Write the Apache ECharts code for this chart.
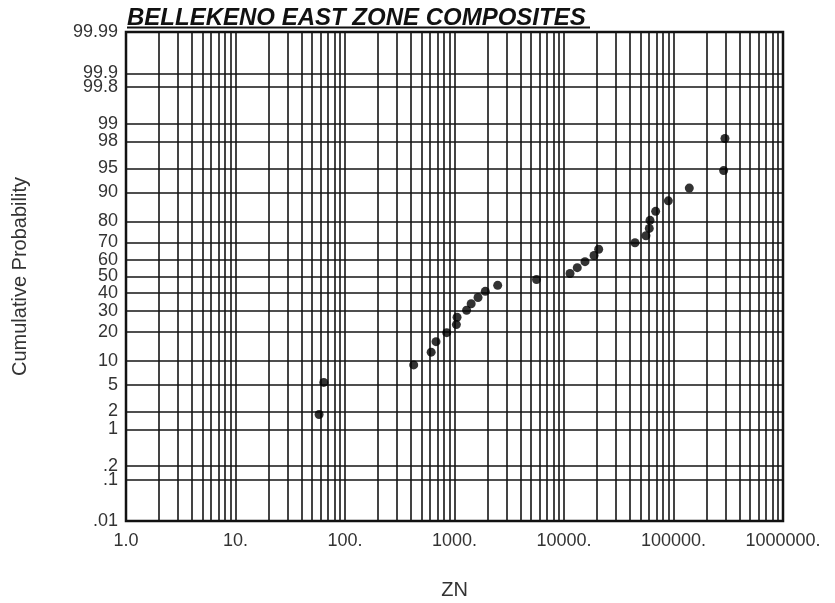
<!DOCTYPE html>
<html>
<head>
<meta charset="utf-8">
<script src="https://cdn.jsdelivr.net/npm/echarts@6/dist/echarts.min.js"></script>
<style>
html,body{margin:0;padding:0;background:#fff;}
#chart{width:835px;height:603px;}
</style>
</head>
<body>
<div id="chart"></div>
<script>
// ---- Data ----
const titleText = 'BELLEKENO EAST ZONE COMPOSITES';
const xName = 'ZN';
const yName = 'Cumulative Probability';

// ZN values of each composite (sorted)
const znValues = [58, 64, 424, 612, 678, 849, 1040, 1055, 1290, 1420, 1640, 1910, 2480, 5610,
  11350, 13220, 15550, 18800, 20740, 44500, 56000, 60100, 61000, 68700, 89700, 139400, 287000, 295000];
// cumulative probability (%) of each composite
const cumProb = [1.79, 5.36, 8.93, 12.50, 16.07, 19.64, 23.21, 26.79, 30.36, 33.93, 37.50, 41.07,
  44.64, 48.21, 51.79, 55.36, 58.93, 62.50, 66.07, 69.64, 73.21, 76.79, 80.36, 83.93, 87.50,
  91.07, 94.64, 98.21];

// probability axis ticks
const probTicks = [0.01, 0.1, 0.2, 1, 2, 5, 10, 20, 30, 40, 50, 60, 70, 80, 90, 95, 98, 99, 99.8, 99.9, 99.99];
const probLabels = ['.01', '.1', '.2', '1', '2', '5', '10', '20', '30', '40', '50', '60', '70', '80', '90', '95', '98', '99', '99.8', '99.9', '99.99'];

// log axis
const decades = [1, 10, 100, 1000, 10000, 100000, 1000000];
const decadeLabels = ['1.0', '10.', '100.', '1000.', '10000.', '100000.', '1000000.'];
const minorMult = [2, 3, 4, 5, 6, 7, 8, 9];

// ---- probability scale (inverse normal CDF, Acklam) ----
function probit(p) {
  const a = [-3.969683028665376e+01, 2.209460984245205e+02, -2.759285104469687e+02, 1.383577518672690e+02, -3.066479806614716e+01, 2.506628277459239e+00];
  const b = [-5.447609879822406e+01, 1.615858368580409e+02, -1.556989798598866e+02, 6.680131188771972e+01, -1.328068155288572e+01];
  const c = [-7.784894002430293e-03, -3.223964580411365e-01, -2.400758277161838e+00, -2.549732539343734e+00, 4.374664141464968e+00, 2.938163982698783e+00];
  const d = [7.784695709041462e-03, 3.224671290700398e-01, 2.445134137142996e+00, 3.754408661907416e+00];
  const pl = 0.02425, ph = 1 - pl;
  let q, r;
  if (p < pl) {
    q = Math.sqrt(-2 * Math.log(p));
    return (((((c[0]*q+c[1])*q+c[2])*q+c[3])*q+c[4])*q+c[5]) / ((((d[0]*q+d[1])*q+d[2])*q+d[3])*q+1);
  } else if (p <= ph) {
    q = p - 0.5; r = q * q;
    return (((((a[0]*r+a[1])*r+a[2])*r+a[3])*r+a[4])*r+a[5])*q / (((((b[0]*r+b[1])*r+b[2])*r+b[3])*r+b[4])*r+1);
  } else {
    q = Math.sqrt(-2 * Math.log(1 - p));
    return -(((((c[0]*q+c[1])*q+c[2])*q+c[3])*q+c[4])*q+c[5]) / ((((d[0]*q+d[1])*q+d[2])*q+d[3])*q+1);
  }
}
const pz = v => probit(v / 100);
const yMin = pz(probTicks[0]);
const yMax = pz(probTicks[probTicks.length - 1]);
const tickZ = probTicks.map(pz);

const gridXs = [];
decades.forEach((d, i) => {
  gridXs.push(d);
  if (i < decades.length - 1) minorMult.forEach(m => gridXs.push(d * m));
});

const lineCol = '#151515';
const markLines = [];
gridXs.forEach(v => markLines.push({ xAxis: v }));
tickZ.forEach(z => markLines.push({ yAxis: z }));

const FONT = 'Liberation Sans, Arial, sans-serif';
const chart = echarts.init(document.getElementById('chart'), null, { renderer: 'canvas' });
chart.setOption({
  animation: false,
  backgroundColor: '#fff',
  textStyle: { fontFamily: FONT },
  grid: { left: 126, right: 52, top: 32, bottom: 82, containLabel: false, outerBoundsMode: 'none',
    show: true, borderColor: '#111', borderWidth: 2.5, backgroundColor: 'transparent' },
  graphic: [
    {
      type: 'text', left: 127, top: 6,
      style: { text: titleText, fontSize: 24, fontWeight: 'bold', fontStyle: 'italic', fill: '#111', fontFamily: FONT }
    },
    {
      type: 'line', shape: { x1: 127, y1: 27.5, x2: 590, y2: 27.5 }, style: { stroke: '#111', lineWidth: 2 }
    }
  ],
  xAxis: {
    type: 'log', logBase: 10, min: decades[0], max: decades[decades.length - 1],
    name: xName, nameLocation: 'middle', nameGap: 59,
    nameTextStyle: { fontSize: 20, color: '#333' },
    axisLine: { show: false }, axisTick: { show: false }, splitLine: { show: false },
    axisLabel: {
      fontSize: 18, color: '#333', margin: 11,
      formatter: v => { const i = decades.findIndex(d => Math.abs(d - v) / d < 1e-6); return i >= 0 ? decadeLabels[i] : ''; }
    }
  },
  yAxis: {
    type: 'value', min: yMin, max: yMax,
    name: yName, nameLocation: 'middle', nameGap: 96, nameRotate: 90,
    nameTextStyle: { fontSize: 20, color: '#333' },
    axisLine: { show: false }, axisTick: { show: false }, splitLine: { show: false },
    axisLabel: {
      fontSize: 18, color: '#333', margin: 8, customValues: tickZ,
      formatter: v => { let best = 0; tickZ.forEach((z, i) => { if (Math.abs(z - v) < Math.abs(tickZ[best] - v)) best = i; }); return probLabels[best]; }
    }
  },
  series: [
    {
      type: 'scatter', symbolSize: 9, itemStyle: { color: '#000' }, z: 5,
      data: znValues.map((v, i) => [v, pz(cumProb[i])]),
      markLine: {
        silent: true, symbol: 'none', animation: false, label: { show: false },
        lineStyle: { color: lineCol, width: 1.6, type: 'solid' },
        data: markLines
      }
    }
  ]
});
</script>
</body>
</html>
